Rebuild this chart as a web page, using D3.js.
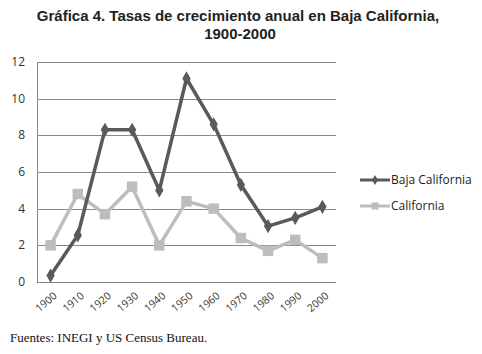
<!DOCTYPE html>
<html>
<head>
<meta charset="utf-8">
<script src="https://cdn.jsdelivr.net/npm/d3@7"></script>
<style>
  body { margin: 0; background: #fff; }
  svg { display: block; }
</style>
</head>
<body>
<div id="chart"></div>
<script>
const years = ["1900", "1910", "1920", "1930", "1940", "1950", "1960", "1970", "1980", "1990", "2000"];
const bajaCalifornia = [0.35, 2.55, 8.3, 8.3, 5.0, 11.1, 8.6, 5.3, 3.05, 3.5, 4.1];
const california = [2.0, 4.8, 3.7, 5.2, 2.0, 4.4, 4.0, 2.4, 1.7, 2.3, 1.3];
const yTicks = [0, 2, 4, 6, 8, 10, 12];

const W = 482, H = 354;
const MARGIN = { LEFT: 37, RIGHT: 146, TOP: 62, BOTTOM: 72 };

const svg = d3.select("#chart").append("svg")
    .attr("width", W)
    .attr("height", H);

// title
const title = svg.append("text")
    .attr("text-anchor", "middle")
    .style("font-family", "Liberation Sans, Arial, sans-serif")
    .style("font-weight", "bold")
    .style("font-size", "15px")
    .attr("fill", "#222");
title.append("tspan").attr("x", 238).attr("y", 21).text("Gráfica 4. Tasas de crecimiento anual en Baja California,");
title.append("tspan").attr("x", 240).attr("y", 39).text("1900-2000");

const x = d3.scaleBand()
    .domain(years)
    .range([MARGIN.LEFT, W - MARGIN.RIGHT]);

const y = d3.scaleLinear()
    .domain([0, 12])
    .range([H - MARGIN.BOTTOM, MARGIN.TOP]);

// gridlines
svg.append("g")
    .selectAll("line")
    .data(yTicks)
    .enter().append("line")
    .attr("x1", MARGIN.LEFT)
    .attr("x2", W - MARGIN.RIGHT)
    .attr("y1", d => Math.round(y(d)) + 0.5)
    .attr("y2", d => Math.round(y(d)) + 0.5)
    .attr("stroke", "#8a8a8a")
    .attr("stroke-width", 1);

// left axis line
svg.append("line")
    .attr("x1", MARGIN.LEFT + 0.5).attr("x2", MARGIN.LEFT + 0.5)
    .attr("y1", y(12)).attr("y2", y(0))
    .attr("stroke", "#8a8a8a");

// y labels
svg.append("g")
    .selectAll("text")
    .data(yTicks)
    .enter().append("text")
    .attr("x", 25)
    .attr("y", d => y(d) + 4)
    .attr("text-anchor", "end")
    .style("font-family", "Open Sans, DejaVu Sans, sans-serif")
    .style("font-size", "12px")
    .attr("fill", "#333")
    .text(d => d);

// x labels, slanted
svg.append("g")
    .selectAll("text")
    .data(years)
    .enter().append("text")
    .attr("transform", d => `translate(${x(d) + x.bandwidth() / 2 + 7}, ${y(0) + 15}) rotate(-40)`)
    .attr("text-anchor", "end")
    .style("font-family", "Open Sans, DejaVu Sans, sans-serif")
    .style("font-size", "10.5px")
    .attr("fill", "#333")
    .text(d => d);

const line = d3.line()
    .x((d, i) => x(years[i]) + x.bandwidth() / 2)
    .y(d => y(d));

const series = [
    { name: "Baja California", values: bajaCalifornia, color: "#5a5a58", symbol: d3.symbolDiamond, size: 60, legendSize: 30 },
    { name: "California", values: california, color: "#bdbdb9", symbol: d3.symbolSquare, size: 110, legendSize: 50 }
];

// draw California first so Baja sits on top
series.slice().reverse().forEach(s => {
    svg.append("path")
        .datum(s.values)
        .attr("fill", "none")
        .attr("stroke", s.color)
        .attr("stroke-width", 3.5)
        .attr("stroke-linejoin", "round")
        .attr("d", line);

    svg.append("g")
        .selectAll("path")
        .data(s.values)
        .enter().append("path")
        .attr("transform", (d, i) => `translate(${x(years[i]) + x.bandwidth() / 2}, ${y(d)})`)
        .attr("d", d3.symbol().type(s.symbol).size(s.size))
        .attr("fill", s.color);
});

// legend
const legend = svg.append("g")
    .selectAll("g")
    .data(series)
    .enter().append("g")
    .attr("transform", (d, i) => `translate(360, ${180 + i * 26})`);

legend.append("line")
    .attr("x1", 0).attr("x2", 30)
    .attr("y1", 0).attr("y2", 0)
    .attr("stroke", d => d.color)
    .attr("stroke-width", 3);

legend.append("path")
    .attr("transform", "translate(15, 0)")
    .attr("d", d => d3.symbol().type(d.symbol).size(d.legendSize)())
    .attr("fill", d => d.color);

legend.append("text")
    .attr("x", 31)
    .attr("y", 4)
    .style("font-family", "Open Sans, DejaVu Sans, sans-serif")
    .style("font-size", "12px")
    .attr("fill", "#222")
    .text(d => d.name);

// source note
svg.append("text")
    .attr("x", 10)
    .attr("y", 342)
    .style("font-family", "Liberation Serif, Times New Roman, serif")
    .style("font-size", "13px")
    .attr("fill", "#111")
    .text("Fuentes: INEGI y US Census Bureau.");
</script>
</body>
</html>
